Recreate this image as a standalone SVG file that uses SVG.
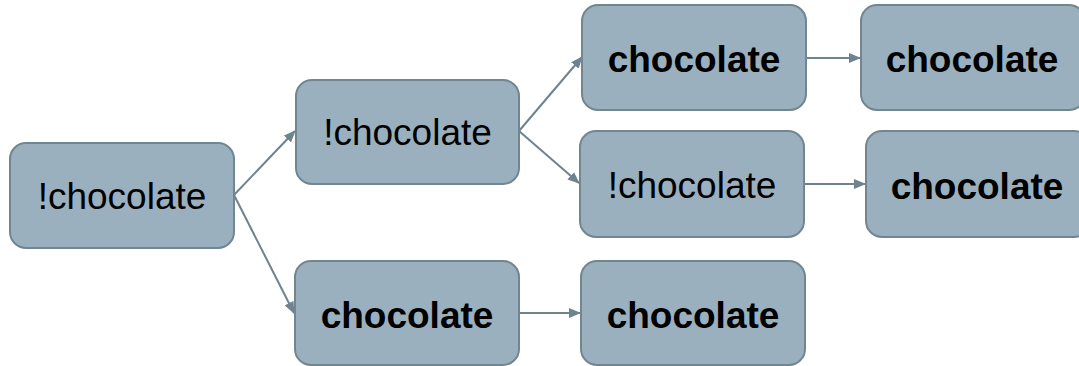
<svg xmlns="http://www.w3.org/2000/svg" width="1079" height="366" viewBox="0 0 1079 366">
<defs>
<style>
.box{fill:#9ab0bf;stroke:#728690;stroke-width:2}
.t{font-family:"Liberation Sans",Arial,sans-serif;font-size:37px;fill:#000;text-anchor:middle}
.b{font-weight:bold}
.c{stroke:#6f838e;stroke-width:2;fill:none;marker-end:url(#ah)}
</style>
<marker id="ah" markerWidth="12" markerHeight="10" refX="11" refY="5" orient="auto" markerUnits="userSpaceOnUse" viewBox="0 0 12 10">
<path d="M0,0 L12,5 L0,10 Z" fill="#6f838e"/>
</marker>
</defs>
<rect width="1079" height="366" fill="#fff"/>
<g id="connectors">
<line class="c" x1="234" y1="195" x2="295" y2="131"/>
<line class="c" x1="234" y1="195" x2="294" y2="313"/>
<line class="c" x1="519" y1="131" x2="582" y2="57"/>
<line class="c" x1="519" y1="131" x2="579" y2="183"/>
<line class="c" x1="806" y1="58" x2="860" y2="58"/>
<line class="c" x1="804" y1="184" x2="865" y2="184"/>
<line class="c" x1="519" y1="313" x2="580" y2="313"/>
</g>
<g id="nodeA"><rect class="box" x="10" y="143" width="224" height="105" rx="16"/><text class="t" x="122" y="209">!chocolate</text></g>
<g id="nodeB"><rect class="box" x="296" y="80" width="223" height="104" rx="16"/><text class="t" x="407.5" y="145">!chocolate</text></g>
<g id="nodeC"><rect class="box" x="582" y="5" width="224" height="105" rx="16"/><text class="t b" x="694" y="72">chocolate</text></g>
<g id="nodeD"><rect class="box" x="580" y="131" width="224" height="106" rx="16"/><text class="t" x="692" y="198">!chocolate</text></g>
<g id="nodeE"><rect class="box" x="861" y="5" width="224" height="105" rx="16"/><text class="t b" x="972" y="72">chocolate</text></g>
<g id="nodeF"><rect class="box" x="866" y="131" width="224" height="106" rx="16"/><text class="t b" x="977" y="199">chocolate</text></g>
<g id="nodeG"><rect class="box" x="295" y="261" width="224" height="104" rx="16"/><text class="t b" x="407" y="328">chocolate</text></g>
<g id="nodeH"><rect class="box" x="581" y="261" width="224" height="104" rx="16"/><text class="t b" x="693" y="328">chocolate</text></g>
</svg>
